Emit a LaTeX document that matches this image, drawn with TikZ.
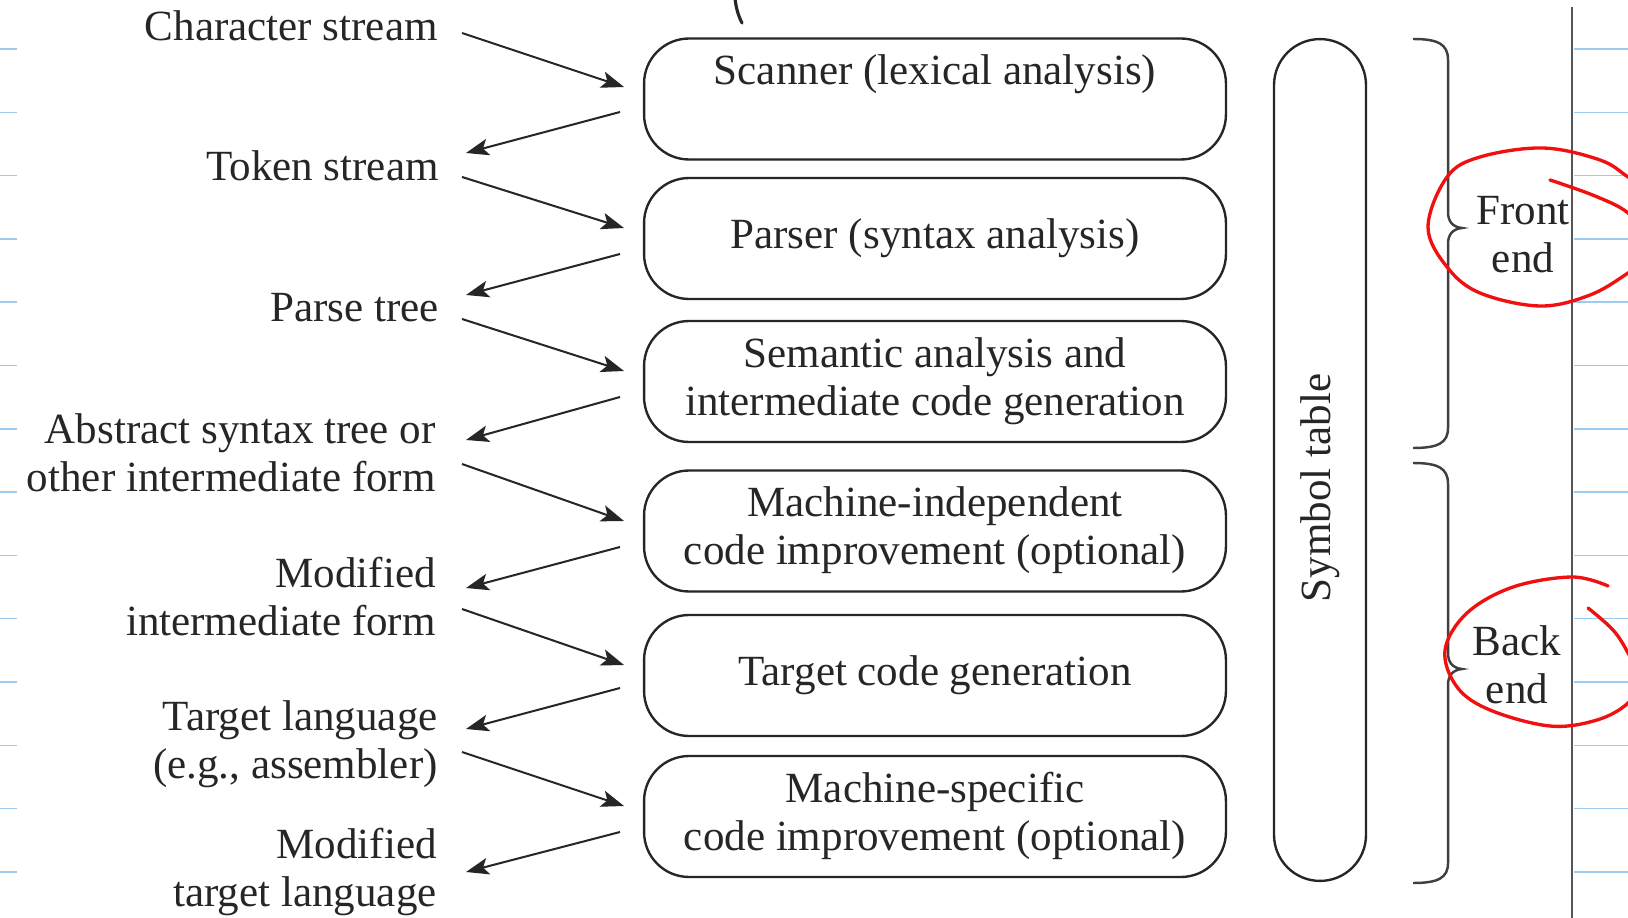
\documentclass[tikz,border=0pt]{standalone}
\usepackage{fontspec}
\setmainfont{Liberation Serif}
\usetikzlibrary{arrows.meta}
\definecolor{ink}{HTML}{262626}
\definecolor{braceink}{HTML}{404040}
\definecolor{ruleblue}{HTML}{9CCBF2}
\definecolor{margingray}{HTML}{555555}
\definecolor{penred}{HTML}{F01010}
\begin{document}
\begin{tikzpicture}[x=0.02cm, y=-0.02cm,
  every node/.style={font=\fontsize{24.5}{27.3}\selectfont, text=ink},
  stage/.style={draw=ink, line width=1.35pt, rounded corners=0.9cm,
    minimum width=11.64cm, minimum height=2.42cm, align=center, inner sep=0pt},
  flowlabel/.style={anchor=east, align=right, inner sep=0pt},
  flow/.style={draw=ink, line width=1.15pt,
    -{Stealth[length=13pt, width=9.5pt, inset=3pt]}},
  brace/.style={draw=braceink, line width=1.4pt},
  rule/.style={draw=ruleblue, line width=0.9pt},
  redpen/.style={draw=penred, line width=1.9pt, line cap=round, line join=round},
]
\useasboundingbox[fill=white] (0,0) rectangle (1628,918);

% ruled paper lines and margin
\foreach \k in {0,...,13} {
  \draw[rule] (0,{49+63.3*\k}) -- (17,{49+63.3*\k});
  \draw[rule] (1574,{49+63.3*\k}) -- (1628,{49+63.3*\k});
}
\draw[draw=margingray, line width=1.1pt] (1572,7) -- (1572,918);

% pen stroke at the top
\draw[draw=ink, line width=1.8pt, line cap=round] (735,-2) .. controls (736,8) and (738,15) .. (742,23);

% compiler phases
\node[stage] (scan) at (935,99) {Scanner (lexical analysis)\strut\\ \strut};
\node[stage] (parse) at (935,238.5) {Parser (syntax analysis)\strut};
\node[stage] (sem) at (935,381.5) {Semantic analysis and\strut\\intermediate code generation\strut};
\node[stage] (mi) at (935,531) {Machine-independent\strut\\code improvement (optional)\strut};
\node[stage] (tcg) at (935,675.5) {Target code generation\strut};
\node[stage] (ms) at (935,816.5) {Machine-specific\strut\\code improvement (optional)\strut};

% symbol table
\node[draw=ink, line width=1.35pt, rounded corners=0.92cm, minimum width=1.84cm,
  minimum height=16.84cm, inner sep=0pt] (symtab) at (1320,460) {};
\node[rotate=90, inner sep=0pt] (symlabel) at (1321,488) {Symbol table\strut};

% intermediate forms
\node[flowlabel] (l1) at (438,31) {Character stream\strut};
\node[flowlabel] (l2) at (439,171) {Token stream\strut};
\node[flowlabel] (l3) at (439,312) {Parse tree\strut};
\node[flowlabel] (l4) at (436,458) {Abstract syntax tree or\strut\\other intermediate form\strut};
\node[flowlabel] (l5) at (436,602) {Modified\strut\\intermediate form\strut};
\node[flowlabel] (l6) at (438,745) {Target language\strut\\(e.g., assembler)\strut};
\node[flowlabel] (l7) at (437,873) {Modified\strut\\target language\strut};

% arrow end points
\coordinate (s1) at (462,33);   \coordinate (e1) at (624,87);
\coordinate (s2) at (620,112);  \coordinate (e2) at (466,153);
\coordinate (s3) at (462,177);  \coordinate (e3) at (624,228);
\coordinate (s4) at (620,254);  \coordinate (e4) at (466,295);
\coordinate (s5) at (462,319);  \coordinate (e5) at (624,371);
\coordinate (s6) at (620,397);  \coordinate (e6) at (466,440);
\coordinate (s7) at (462,464);  \coordinate (e7) at (624,521);
\coordinate (s8) at (620,547);  \coordinate (e8) at (466,588);
\coordinate (s9) at (462,609);  \coordinate (e9) at (624,665);
\coordinate (s10) at (620,688); \coordinate (e10) at (466,729);
\coordinate (s11) at (462,752); \coordinate (e11) at (624,806);
\coordinate (s12) at (620,832); \coordinate (e12) at (466,872);
\foreach \i in {1,...,12} { \draw[flow] (s\i) -- (e\i); }

% front end / back end braces
\draw[brace] (1413,39) .. controls (1438,39) and (1448,44) .. (1448,60)
  -- (1448,212) .. controls (1448,222) and (1453,227) .. (1462,228)
  .. controls (1453,229) and (1448,234) .. (1448,244)
  -- (1448,428) .. controls (1448,443) and (1438,448) .. (1413,448);
\draw[brace] (1413,463) .. controls (1438,463) and (1448,468) .. (1448,484)
  -- (1448,653) .. controls (1448,663) and (1453,668) .. (1462,669)
  .. controls (1453,670) and (1448,675) .. (1448,685)
  -- (1448,863) .. controls (1448,878) and (1438,883) .. (1413,883);
\node[align=center, inner sep=0pt] (front) at (1523,239) {Front\strut\\end\strut};
\node[align=center, inner sep=0pt] (back) at (1517,670) {Back\strut\\end\strut};

% hand-drawn red circles
\begin{scope}
\clip (0,0) rectangle (1628,918);
\draw[redpen] plot[smooth, tension=0.6] coordinates {
  (1550,180) (1595,196) (1628,213) (1648,240) (1640,262) (1628,273)
  (1590,295) (1540,306) (1480,293) (1447,267) (1428,227) (1447,177)
  (1480,157) (1543,148) (1600,160) (1628,177) (1650,192)};
\draw[redpen] plot[smooth, tension=0.6] coordinates {
  (1588,608) (1613,630) (1628,653) (1640,680) (1628,703) (1597,720)
  (1550,726) (1490,710) (1457,687) (1445,650) (1467,613) (1513,587)
  (1572,577) (1608,586)};
\end{scope}
\end{tikzpicture}
\end{document}
